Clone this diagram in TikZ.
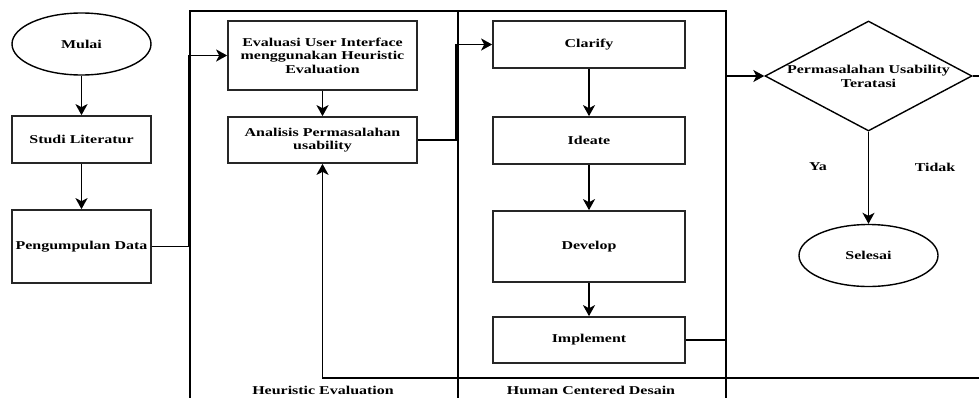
\documentclass[tikz,border=0pt]{standalone}
\usepackage{fontspec}
\setmainfont{Liberation Serif}[FakeStretch=1.33]
\usetikzlibrary{shapes.geometric,arrows.meta}
\begin{document}
\begin{tikzpicture}[x=1pt, y=-1pt, >={Stealth[length=11pt,width=12pt,inset=3pt]},
        font=\bfseries\fontsize{12}{13.5}\selectfont,
        kotak/.style={draw=black!85, line width=1.7pt, rectangle, align=center, inner sep=0pt},
        bulat/.style={draw, line width=1.4pt, ellipse, inner sep=0pt, minimum width=139pt, minimum height=62pt},
        wadah/.style={draw, line width=1.6pt, rectangle, anchor=north west, inner sep=0pt, minimum width=268pt, minimum height=420pt},
        panah/.style={->, line width=1.6pt}]
    \useasboundingbox (0,0) rectangle (979,397);
    \clip (0,0) rectangle (979,397);
    % lajur
    \node[wadah] (he) at (189,10) {};
    \node[wadah] (hcd) at (457,10) {};
    \node (lblhe) at (323,390) {Heuristic Evaluation};
    \node (lblhcd) at (591,390) {Human Centered Desain};
    % alur kiri
    \node[bulat] (mulai) at (81.5,44) {Mulai};
    \node[kotak, minimum width=139pt, minimum height=47pt] (studi) at (81.5,139.5) {Studi Literatur};
    \node[kotak, minimum width=139pt, minimum height=73pt] (kumpul) at (81.5,246.5) {Pengumpulan Data};
    % heuristic evaluation
    \node[kotak, minimum width=189pt, minimum height=69pt] (evaluasi) at (322.5,55.5) {Evaluasi User Interface\\menggunakan Heuristic\\Evaluation};
    \node[kotak, minimum width=189pt, minimum height=46pt] (analisis) at (322.5,140) {Analisis Permasalahan\\usability};
    % human centered desain
    \node[kotak, minimum width=192pt, minimum height=47pt] (clarify) at (589,44.5) {Clarify};
    \node[kotak, minimum width=192pt, minimum height=47pt] (ideate) at (589,140.5) {Ideate};
    \node[kotak, minimum width=192pt, minimum height=71pt] (develop) at (589,246.5) {Develop};
    \node[kotak, minimum width=192pt, minimum height=46pt] (implement) at (589,340) {Implement};
    % keputusan
    \node[draw, line width=1.4pt, diamond, inner sep=0pt, minimum width=207pt, minimum height=110pt,
        label={[align=center, font=\bfseries\fontsize{12}{14}\selectfont]center:Permasalahan Usability\\Teratasi}] (cek) at (868.5,76) {};
    \node[bulat] (selesai) at (868.5,255.5) {Selesai};
    \node (ya) at (818,167) {Ya};
    \node (tidak) at (935,167) {Tidak};
    \coordinate (putar) at (995,378);

    \draw[panah] (mulai) -- (studi);
    \draw[panah] (studi) -- (kumpul);
    \draw[panah] (kumpul.east) -- (kumpul.east -| he.west) |- (evaluasi.west);
    \draw[panah] (evaluasi) -- (analisis);
    \draw[panah] (analisis.east) -- ([xshift=-1pt]analisis.east -| hcd.west) |- (clarify.west);
    \draw[panah] (clarify) -- (ideate);
    \draw[panah] (ideate) -- (develop);
    \draw[panah] (develop) -- (implement);
    \draw[panah] (implement.east) -- (implement.east -| hcd.east) |- (cek.west);
    \draw[panah] (cek.south) -- (selesai.north);
    \draw[panah] (cek.east) -| (putar) -- (putar -| analisis.south) -- (analisis.south);
\end{tikzpicture}
\end{document}
